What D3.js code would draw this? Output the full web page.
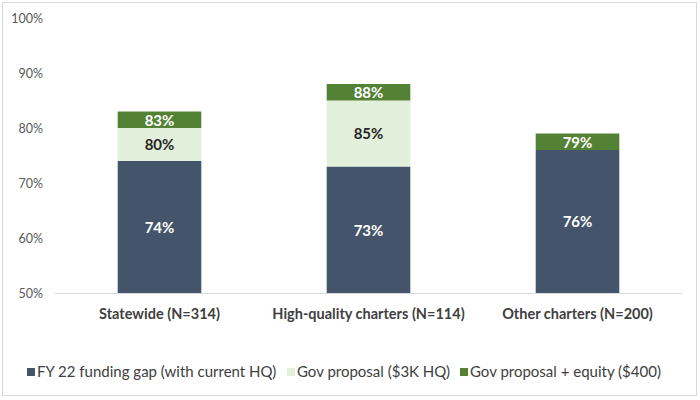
<!DOCTYPE html>
<html>
<head>
<meta charset="utf-8">
<script src="https://cdn.jsdelivr.net/npm/d3@7"></script>
<style>
  html, body { margin: 0; padding: 0; background: #fff; }
  svg { display: block; font-family: Lato, "Open Sans", sans-serif; }
</style>
</head>
<body>
<svg id="chart" width="700" height="400"></svg>
<script>
const categories = ["Statewide (N=314)", "High-quality charters (N=114)", "Other charters (N=200)"];
const seriesNames = ["FY 22 funding gap (with current HQ)", "Gov proposal ($3K HQ)", "Gov proposal + equity ($400)"];
// cumulative levels shown as labels
const fy22Gap = [74, 73, 76];
const govProposal = [80, 85, 76];
const govEquity = [83, 88, 79];
const yTicks = [50, 60, 70, 80, 90, 100];

const colors = ["#44546A", "#E2EFDA", "#548235"];
const labelColors = ["#ffffff", "#262626", "#ffffff"];

const svg = d3.select("#chart");

svg.append("rect").attr("x", 2.5).attr("y", 2.5).attr("width", 694).attr("height", 393)
  .attr("fill", "#fff").attr("stroke", "#D9D9D9").attr("stroke-width", 1);

const x = d3.scaleBand().domain(categories).range([55, 682]).paddingInner(0.6).paddingOuter(0.3);
const y = d3.scaleLinear().domain([50, 100]).range([293, 18]);

// y axis labels
const yAxis = d3.axisLeft(y).tickValues(yTicks).tickFormat(d => d + "%").tickSize(0).tickPadding(0);
const gy = svg.append("g").attr("transform", "translate(43,0)").call(yAxis);
gy.select(".domain").remove();
gy.selectAll("text").attr("fill", "#595959").style("font-size", "12.5px").style("font-family", "Lato, sans-serif");

// build stacked segments
const levels = [fy22Gap, govProposal, govEquity];
const segments = [];
categories.forEach((c, i) => {
  let base = 50;
  levels.forEach((arr, s) => {
    const top = arr[i];
    if (top > base) {
      segments.push({ cat: c, s, y0: base, y1: top, label: top + "%" });
    }
    base = Math.max(base, top);
  });
});

svg.append("g").selectAll("rect").data(segments).join("rect")
  .attr("x", d => x(d.cat))
  .attr("width", x.bandwidth())
  .attr("y", d => y(d.y1))
  .attr("height", d => y(d.y0) - y(d.y1))
  .attr("fill", d => colors[d.s]);

svg.append("g").selectAll("text").data(segments).join("text")
  .attr("x", d => x(d.cat) + x.bandwidth() / 2)
  .attr("y", d => (y(d.y0) + y(d.y1)) / 2 + 0.5)
  .attr("dy", "0.35em")
  .attr("text-anchor", "middle")
  .attr("fill", d => labelColors[d.s])
  .style("font-size", "15px")
  .style("font-weight", "bold")
  .text(d => d.label);

// x axis
const xAxis = d3.axisBottom(x).tickSize(0).tickPadding(16);
const gx = svg.append("g").attr("transform", "translate(0,293)").call(xAxis);
gx.select(".domain").attr("stroke", "#D9D9D9").attr("d", "M55,0.5H682");
gx.selectAll("text").attr("fill", "#404040").style("font-size", "14.5px").style("font-weight", "bold").style("font-family", "Lato, sans-serif");

// legend
const legendX = [27, 287, 460];
const lg = svg.append("g").selectAll("g").data(seriesNames).join("g")
  .attr("transform", (d, i) => `translate(${legendX[i]},372)`);
lg.append("rect").attr("x", 0).attr("y", -4).attr("width", 8).attr("height", 8)
  .attr("fill", (d, i) => colors[i]);
lg.append("text").attr("x", 10).attr("y", 0).attr("dy", "0.35em")
  .attr("fill", "#404040").style("font-size", "15px").text(d => d);
</script>
</body>
</html>
